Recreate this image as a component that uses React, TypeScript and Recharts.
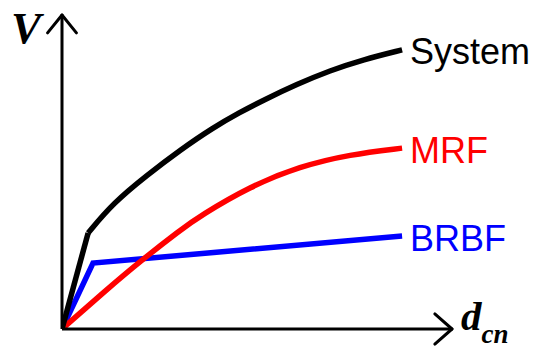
import React from 'react';
import { LineChart, Line, XAxis, YAxis, ReferenceLine } from 'recharts';

// Capacity curves, normalised so both axes run 0..100
const systemElastic = [
  { x: 0, y: 0 },
  { x: 6.7, y: 30.6 },
];
const systemCurve = [
  { x: 6.7, y: 30.6 },
  { x: 13.1, y: 40.1 },
  { x: 21.8, y: 49.0 },
  { x: 30.3, y: 57.0 },
  { x: 38.7, y: 64.1 },
  { x: 45.6, y: 69.0 },
  { x: 51.5, y: 72.8 },
  { x: 60.3, y: 78.0 },
  { x: 68.7, y: 82.3 },
  { x: 77.2, y: 85.8 },
  { x: 87.2, y: 88.9 },
];
const mrfCurve = [
  { x: 0, y: 0 },
  { x: 11.5, y: 12.6 },
  { x: 20.0, y: 21.5 },
  { x: 30.3, y: 31.5 },
  { x: 35.4, y: 36.0 },
  { x: 48.2, y: 45.4 },
  { x: 61.0, y: 51.8 },
  { x: 73.8, y: 55.6 },
  { x: 87.2, y: 57.6 },
];
const brbfCurve = [
  { x: 0, y: 0 },
  { x: 7.95, y: 21.0 },
  { x: 87.2, y: 29.6 },
];

// arrow heads at the ends of the axes
const xArrow = [
  [{ x: 95.6, y: 4.8 }, { x: 100, y: 0 }],
  [{ x: 95.6, y: -4.8 }, { x: 100, y: 0 }],
];
const yArrow = [
  [{ x: -3.7, y: 94.3 }, { x: 0, y: 100 }],
  [{ x: 3.7, y: 94.3 }, { x: 0, y: 100 }],
];

const sans = 'Liberation Sans, Arial, sans-serif';
const serif = 'Liberation Serif, Times New Roman, serif';

const endLabel = (text: string, color: string, last: number) => (props: any) => {
  if (props.index !== last) return <g />;
  return (
    <text
      x={props.x + 8}
      y={props.y + 2}
      fill={color}
      fontSize={36}
      fontFamily={sans}
      dominantBaseline="central"
    >
      {text}
    </text>
  );
};

const VLabel = (props: any) => {
  const { x, y, width } = props.viewBox;
  return (
    <text x={x + width - 51} y={y + 28} fontSize={45} fontFamily={serif} fontWeight="bold" fontStyle="italic" fill="#000">
      V
    </text>
  );
};

const DLabel = (props: any) => {
  const { x, y, width } = props.viewBox;
  return (
    <text x={x + width + 9} y={y + 1} fontFamily={serif} fontWeight="bold" fontStyle="italic" fill="#000">
      <tspan fontSize={41}>d</tspan>
      <tspan fontSize={27} dy={13}>cn</tspan>
    </text>
  );
};

export default function App() {
  return (
    <div style={{ position: 'absolute', left: 0, top: 0, background: '#fff' }}>
      <LineChart width={535} height={349} margin={{ top: 15, right: 83, bottom: 19, left: 61 }}>
        <XAxis
          type="number"
          dataKey="x"
          domain={[0, 100]}
          height={1}
          tick={false}
          tickLine={false}
          axisLine={{ stroke: '#000', strokeWidth: 3 }}
          allowDataOverflow
          label={{ content: DLabel }}
        />
        <YAxis
          type="number"
          dataKey="y"
          domain={[0, 100]}
          width={1}
          tick={false}
          tickLine={false}
          axisLine={{ stroke: '#000', strokeWidth: 3 }}
          allowDataOverflow
          label={{ content: VLabel }}
        />
        {[...xArrow, ...yArrow].map((seg, i) => (
          <ReferenceLine
            key={i}
            segment={seg}
            stroke="#000"
            strokeWidth={3}
            strokeLinecap="round"
            ifOverflow="visible"
          />
        ))}
        <Line
          data={brbfCurve}
          dataKey="y"
          type="linear"
          stroke="#0000ff"
          strokeWidth={5.5}
          dot={false}
          isAnimationActive={false}
          label={endLabel('BRBF', '#0000ff', brbfCurve.length - 1)}
        />
        <Line
          data={mrfCurve}
          dataKey="y"
          type="basis"
          stroke="#ff0000"
          strokeWidth={5.5}
          dot={false}
          isAnimationActive={false}
          label={endLabel('MRF', '#ff0000', mrfCurve.length - 1)}
        />
        <Line
          data={systemElastic}
          dataKey="y"
          type="linear"
          stroke="#000"
          strokeWidth={5.5}
          dot={false}
          isAnimationActive={false}
        />
        <Line
          data={systemCurve}
          dataKey="y"
          type="basis"
          stroke="#000"
          strokeWidth={5.5}
          dot={false}
          isAnimationActive={false}
          label={endLabel('System', '#000', systemCurve.length - 1)}
        />
      </LineChart>
    </div>
  );
}
